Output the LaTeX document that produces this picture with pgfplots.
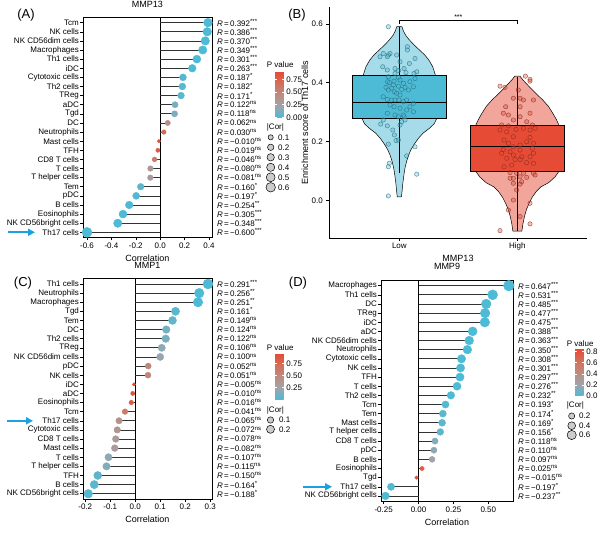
\documentclass[border=0pt]{standalone}
\usepackage{fontspec}
\setmainfont{Liberation Sans}
\usepackage{pgfplots}
\pgfplotsset{compat=1.18}
\usepackage{pgfplotstable}
\usetikzlibrary{arrows.meta}

\definecolor{npgblue}{RGB}{77,187,213}
\definecolor{npgred}{RGB}{230,75,53}
\definecolor{violblue}{RGB}{166,220,234}
\definecolor{violred}{RGB}{242,165,154}
\definecolor{arrowblue}{RGB}{27,160,226}
\definecolor{seggray}{RGB}{51,51,51}
\definecolor{ptblue}{RGB}{40,105,120}
\definecolor{ptred}{RGB}{130,40,30}

\newcommand{\fs}{\fontsize{8}{9.6}\selectfont}
\newcommand{\fl}{\fontsize{9}{10.8}\selectfont}
\newcommand{\Rv}[2]{\textit{R}\,=\,#1\textsuperscript{#2}}

\pgfplotsset{
  colormap={pv}{rgb255=(77,187,213) rgb255=(161,163,170) rgb255=(189,139,128) rgb255=(212,110,90) rgb255=(230,75,53)},
  lolli/.style={
    scale only axis, clip=false,
    ymin=0.4, ymax=24.6, ytick={1,...,24},
    xtick pos=bottom, ytick pos=left,
    tick align=outside, major tick length=2.7pt,
    every tick/.style={black, line width=0.5pt},
    axis line style={line width=0.6pt},
    tick label style={font=\fs},
    yticklabel style={inner sep=1.2pt},
    xticklabel style={inner sep=2.2pt},
    xlabel=Correlation,
    xlabel style={font=\fl, at={(rel axis cs:0.5,0)}, anchor=center, yshift=-20.5pt},
    title style={font=\fl, at={(rel axis cs:0.5,1)}, anchor=base, yshift=3.5pt},
    colormap name=pv,
  },
  rlab/.style={scale only axis, ymin=0.4, ymax=24.6, xmin=0, xmax=1, ytick={1,...,24},
    xtick=\empty, ytick pos=right, yticklabel pos=right, axis line style={draw=none},
    major tick length=0pt, yticklabel style={font=\fs, anchor=west, inner sep=0pt, xshift=4.8pt}},
  pvbar/.style={colorbar, colorbar style={at={(parent axis.north east)}, anchor=north west,
     scale only axis, width=8.3pt, axis line style={draw=none},
     yticklabel pos=right, ytick pos=both, tick align=inside, major tick length=1.8pt,
     every tick/.style={white, line width=0.5pt},
     yticklabel style={font=\fs, inner sep=0pt, xshift=2.7pt}}},
  lolpts/.style={scatter, only marks, mark=*, point meta=explicit,
     scatter/use mapped color={draw=mapped color, fill=mapped color},
     scatter/@pre marker code/.append style={/tikz/mark size=\ms pt}},
}

% y = row (24 = top), r = correlation, p = p value
\pgfplotstableread{
y r p
24 0.392 0.0000
23 0.386 0.0000
22 0.370 0.0000
21 0.349 0.0000
20 0.301 0.0001
19 0.263 0.0008
18 0.187 0.017
17 0.182 0.021
16 0.171 0.030
15 0.122 0.124
14 0.118 0.137
13 0.062 0.435
12 0.030 0.705
11 -0.010 0.900
10 -0.019 0.810
9 -0.046 0.563
8 -0.080 0.314
7 -0.081 0.308
6 -0.160 0.043
5 -0.197 0.012
4 -0.254 0.001
3 -0.305 0.0001
2 -0.348 0.0000
1 -0.600 0.0000
}\tblA

\pgfplotstableread{
y r p
24 0.291 0.0002
23 0.256 0.0011
22 0.251 0.0014
21 0.161 0.042
20 0.149 0.060
19 0.124 0.118
18 0.122 0.124
17 0.106 0.182
16 0.100 0.209
15 0.052 0.514
14 0.051 0.522
13 -0.005 0.950
12 -0.010 0.900
11 -0.016 0.841
10 -0.041 0.607
9 -0.065 0.414
8 -0.072 0.366
7 -0.078 0.327
6 -0.082 0.303
5 -0.107 0.178
4 -0.115 0.148
3 -0.150 0.058
2 -0.164 0.039
1 -0.188 0.017
}\tblC

\pgfplotstableread{
y r p
24 0.647 0.0000
23 0.531 0.0000
22 0.485 0.0000
21 0.477 0.0000
20 0.475 0.0000
19 0.388 0.0000
18 0.363 0.0000
17 0.350 0.0000
16 0.308 0.0001
15 0.301 0.0001
14 0.297 0.0001
13 0.276 0.0004
12 0.232 0.003
11 0.193 0.014
10 0.174 0.028
9 0.169 0.033
8 0.156 0.049
7 0.118 0.137
6 0.110 0.166
5 0.097 0.222
4 0.025 0.753
3 -0.015 0.850
2 -0.197 0.012
1 -0.237 0.0026
}\tblD

\pgfplotstableread{
x y
0.907 0.590
1.068 0.522
1.068 0.511
0.864 0.499
0.921 0.499
0.907 0.494
0.977 0.494
0.836 0.488
0.898 0.488
1.133 0.482
1.085 0.465
0.859 0.454
1.006 0.471
0.898 0.443
0.994 0.441
0.963 0.448
1.040 0.448
1.147 0.437
0.907 0.420
0.963 0.431
0.992 0.418
1.056 0.434
1.124 0.431
1.133 0.414
0.901 0.403
0.915 0.400
0.955 0.405
1.006 0.409
1.034 0.398
0.949 0.392
0.992 0.388
0.887 0.384
0.907 0.375
0.935 0.381
1.076 0.375
1.119 0.386
1.090 0.403
1.048 0.384
1.020 0.377
0.958 0.369
0.977 0.364
1.006 0.358
0.864 0.352
0.898 0.343
0.935 0.341
0.963 0.341
0.997 0.341
1.034 0.335
1.062 0.341
1.090 0.318
1.119 0.330
0.921 0.324
0.955 0.318
1.006 0.313
1.062 0.307
1.119 0.301
0.898 0.296
0.963 0.290
0.992 0.284
1.040 0.284
1.034 0.290
0.864 0.273
0.842 0.259
0.898 0.253
1.006 0.256
1.020 0.267
1.048 0.273
0.944 0.239
0.958 0.222
0.992 0.205
0.972 0.203
0.907 0.191
1.133 0.182
1.062 0.151
0.915 0.126
0.907 0.114
1.147 0.089
0.907 0.015
}\ptsLow

\pgfplotstableread{
x y
2.107 0.411
2.068 0.422
2.107 0.405
1.853 0.388
1.895 0.384
2.008 0.375
2.023 0.347
1.966 0.347
2.023 0.318
1.901 0.318
1.881 0.296
1.924 0.290
2.051 0.341
2.107 0.296
2.136 0.341
1.867 0.256
1.924 0.253
1.966 0.273
2.023 0.284
2.079 0.267
2.127 0.256
2.150 0.245
1.853 0.239
1.910 0.233
1.989 0.241
2.051 0.245
2.107 0.239
1.966 0.216
2.107 0.214
1.887 0.205
1.924 0.194
1.966 0.182
2.023 0.188
2.079 0.199
2.136 0.194
2.127 0.177
1.881 0.173
1.938 0.165
2.023 0.171
1.867 0.160
1.966 0.154
2.037 0.148
2.107 0.148
2.136 0.160
1.910 0.143
1.980 0.139
2.023 0.139
2.079 0.128
2.136 0.126
1.952 0.120
1.887 0.114
1.938 0.094
1.994 0.092
2.051 0.092
2.136 0.092
2.150 0.086
2.023 0.080
1.966 0.075
2.079 0.078
1.938 0.075
2.037 0.063
1.966 0.058
2.023 0.055
1.994 0.035
1.966 0.001
2.107 -0.010
1.924 -0.033
2.023 -0.055
2.107 -0.080
1.853 -0.103
}\ptsHigh

\begin{document}
\begin{tikzpicture}
\path[use as bounding box] (0,0) rectangle (600pt,533pt);

%%%%%%%%%%%%%%%% (A)
\begin{axis}[lolli, at={(83pt,515.8pt)}, anchor=north west, width=129pt, height=220.6pt,
  xmin=-0.633, xmax=0.425,
  xtick={-0.6,-0.4,-0.2,0,0.2,0.4}, xticklabels={-0.6,-0.4,-0.2,0.0,0.2,0.4},
  yticklabels={Th17 cells,NK CD56bright cells,Eosinophils,B cells,pDC,Tem,T helper cells,T cells,CD8 T cells,TFH,Mast cells,Neutrophils,DC,Tgd,aDC,TReg,Th2 cells,Cytotoxic cells,iDC,Th1 cells,Macrophages,NK CD56dim cells,NK cells,Tcm},
  title=MMP13,
  point meta min=0, point meta max=0.9,
  pvbar, colorbar style={xshift=54.7pt, yshift=-54.5pt, height=45.6pt, ytick={0,0.25,0.5,0.75}, yticklabels={0.00,0.25,0.50,0.75}},
]
\addplot[black, line width=0.6pt] coordinates {(0,0.4) (0,24.6)};
\addplot[xcomb, seggray, line width=0.7pt] table[x=r, y=y] {\tblA};
\addplot[lolpts, visualization depends on={0.5*(3.3+6.7*sqrt((abs(\thisrow{r})-0.0099)/0.5901)) \as \ms}] table[x=r, y=y, meta=p] {\tblA};
\end{axis}
\begin{axis}[rlab, at={(83pt,515.8pt)}, anchor=north west, width=129pt, height=220.6pt,
  yticklabels={\Rv{−0.600}{***},\Rv{−0.348}{***},\Rv{−0.305}{***},\Rv{−0.254}{**},\Rv{−0.197}{*},\Rv{−0.160}{*},\Rv{−0.081}{ns},\Rv{−0.080}{ns},\Rv{−0.046}{ns},\Rv{−0.019}{ns},\Rv{−0.010}{ns},\Rv{0.030}{ns},\Rv{0.062}{ns},\Rv{0.118}{ns},\Rv{0.122}{ns},\Rv{0.171}{*},\Rv{0.182}{*},\Rv{0.187}{*},\Rv{0.263}{***},\Rv{0.301}{***},\Rv{0.349}{***},\Rv{0.370}{***},\Rv{0.386}{***},\Rv{0.392}{***}}]
\addplot[draw=none] coordinates {(0,1)};
\end{axis}

%%%%%%%%%%%%%%%% (C)
\begin{axis}[lolli, at={(83pt,254.5pt)}, anchor=north west, width=129pt, height=220.7pt,
  xmin=-0.209, xmax=0.307,
  xtick={-0.2,-0.1,0,0.1,0.2,0.3}, xticklabels={-0.2,-0.1,0.0,0.1,0.2,0.3},
  yticklabels={NK CD56bright cells,B cells,TFH,T helper cells,T cells,Mast cells,CD8 T cells,Cytotoxic cells,Th17 cells,Tcm,Eosinophils,aDC,iDC,NK cells,pDC,NK CD56dim cells,TReg,Th2 cells,DC,Tem,Tgd,Macrophages,Neutrophils,Th1 cells},
  title=MMP1,
  point meta min=0, point meta max=0.95,
  pvbar, colorbar style={xshift=54.7pt, yshift=-75.2pt, height=45.6pt, ytick={0.25,0.5,0.75}, yticklabels={0.25,0.50,0.75}},
]
\addplot[black, line width=0.6pt] coordinates {(0,0.4) (0,24.6)};
\addplot[xcomb, seggray, line width=0.7pt] table[x=r, y=y] {\tblC};
\addplot[lolpts, visualization depends on={0.5*(3.3+6.7*sqrt((abs(\thisrow{r})-0.0049)/0.2861)) \as \ms}] table[x=r, y=y, meta=p] {\tblC};
\end{axis}
\begin{axis}[rlab, at={(83pt,254.5pt)}, anchor=north west, width=129pt, height=220.7pt,
  yticklabels={\Rv{−0.188}{*},\Rv{−0.164}{*},\Rv{−0.150}{ns},\Rv{−0.115}{ns},\Rv{−0.107}{ns},\Rv{−0.082}{ns},\Rv{−0.078}{ns},\Rv{−0.072}{ns},\Rv{−0.065}{ns},\Rv{−0.041}{ns},\Rv{−0.016}{ns},\Rv{−0.010}{ns},\Rv{−0.005}{ns},\Rv{0.051}{ns},\Rv{0.052}{ns},\Rv{0.100}{ns},\Rv{0.106}{ns},\Rv{0.122}{ns},\Rv{0.124}{ns},\Rv{0.149}{ns},\Rv{0.161}{*},\Rv{0.251}{**},\Rv{0.256}{**},\Rv{0.291}{***}}]
\addplot[draw=none] coordinates {(0,1)};
\end{axis}

%%%%%%%%%%%%%%%% (D)
\begin{axis}[lolli, at={(381pt,252.8pt)}, anchor=north west, width=132pt, height=221.2pt,
  xmin=-0.269, xmax=0.677,
  xtick={-0.25,0,0.25,0.5}, xticklabels={-0.25,0.00,0.25,0.50},
  yticklabels={NK CD56bright cells,Th17 cells,Tgd,Eosinophils,B cells,pDC,CD8 T cells,T helper cells,Mast cells,Tem,Tcm,Th2 cells,T cells,TFH,NK cells,Cytotoxic cells,Neutrophils,NK CD56dim cells,aDC,iDC,TReg,DC,Th1 cells,Macrophages},
  title=MMP9, title style={yshift=1.5pt},
  point meta min=0, point meta max=0.85,
  pvbar, colorbar style={xshift=53.7pt, yshift=-68.7pt, height=47.1pt, ytick={0,0.2,0.4,0.6,0.8}, yticklabels={0.0,0.2,0.4,0.6,0.8}},
]
\addplot[black, line width=0.6pt] coordinates {(0,0.4) (0,24.6)};
\addplot[xcomb, seggray, line width=0.7pt] table[x=r, y=y] {\tblD};
\addplot[lolpts, visualization depends on={0.5*(3.3+7.4*sqrt((abs(\thisrow{r})-0.0149)/0.6321)) \as \ms}] table[x=r, y=y, meta=p] {\tblD};
\end{axis}
\begin{axis}[rlab, at={(381pt,252.8pt)}, anchor=north west, width=132pt, height=221.2pt,
  yticklabels={\Rv{−0.237}{**},\Rv{−0.197}{*},\Rv{−0.015}{ns},\Rv{0.025}{ns},\Rv{0.097}{ns},\Rv{0.110}{ns},\Rv{0.118}{ns},\Rv{0.156}{*},\Rv{0.169}{*},\Rv{0.174}{*},\Rv{0.193}{*},\Rv{0.232}{**},\Rv{0.276}{***},\Rv{0.297}{***},\Rv{0.301}{***},\Rv{0.308}{***},\Rv{0.350}{***},\Rv{0.363}{***},\Rv{0.388}{***},\Rv{0.475}{***},\Rv{0.477}{***},\Rv{0.485}{***},\Rv{0.531}{***},\Rv{0.647}{***}}]
\addplot[draw=none] coordinates {(0,1)};
\end{axis}

%%%%%%%%%%%%%%%% (B)
\begin{axis}[at={(329pt,295pt)}, anchor=south west, scale only axis, width=258pt, height=231pt,
  xmin=0.404, xmax=2.59, ymin=-0.128, ymax=0.657,
  axis x line=bottom, axis y line=left, axis line style={-, line width=0.6pt},
  tick align=outside, major tick length=2.7pt, every tick/.style={black, line width=0.5pt},
  xtick={1,2}, xticklabels={Low,High}, ytick={0,0.2,0.4,0.6}, yticklabels={0.0,0.2,0.4,0.6},
  tick label style={font=\fs}, xticklabel style={inner sep=2.2pt},
  xlabel=MMP13, ylabel=Enrichment score of Th17 cells,
  xlabel style={font=\fl, at={(rel axis cs:0.5,0)}, anchor=center, yshift=-20.3pt},
  ylabel style={font=\fl, at={(rel axis cs:0,0.5)}, anchor=center, rotate=0, yshift=24pt},
]
% violins
\addplot[fill=violblue, draw=black, line width=0.5pt] coordinates {
(1.018,0.012) (1.024,0.035) (1.030,0.060) (1.040,0.090) (1.048,0.110) (1.060,0.130) (1.075,0.150) (1.097,0.171) (1.125,0.190) (1.160,0.210) (1.200,0.228) (1.255,0.245) (1.295,0.260) (1.318,0.279) (1.325,0.330) (1.320,0.380) (1.305,0.426) (1.283,0.454) (1.250,0.477) (1.215,0.494) (1.170,0.511) (1.125,0.528) (1.085,0.545) (1.055,0.560) (1.035,0.575) (1.022,0.590)
(0.978,0.590) (0.965,0.575) (0.945,0.560) (0.915,0.545) (0.875,0.528) (0.830,0.511) (0.785,0.494) (0.750,0.477) (0.717,0.454) (0.695,0.426) (0.680,0.380) (0.675,0.330) (0.682,0.279) (0.705,0.260) (0.745,0.245) (0.800,0.228) (0.840,0.210) (0.875,0.190) (0.903,0.171) (0.925,0.150) (0.940,0.130) (0.952,0.110) (0.960,0.090) (0.970,0.060) (0.976,0.035) (0.982,0.012)
} -- cycle;
\addplot[fill=violred, draw=black, line width=0.5pt] coordinates {
(2.038,-0.105) (2.047,-0.080) (2.060,-0.055) (2.078,-0.030) (2.100,-0.010) (2.125,0.010) (2.160,0.030) (2.200,0.046) (2.265,0.060) (2.320,0.080) (2.355,0.100) (2.372,0.140) (2.375,0.180) (2.368,0.220) (2.352,0.256) (2.330,0.275) (2.300,0.296) (2.262,0.320) (2.215,0.341) (2.165,0.360) (2.115,0.380) (2.080,0.395) (2.045,0.410) (2.022,0.422)
(1.978,0.422) (1.955,0.410) (1.920,0.395) (1.885,0.380) (1.835,0.360) (1.785,0.341) (1.738,0.320) (1.700,0.296) (1.670,0.275) (1.648,0.256) (1.632,0.220) (1.625,0.180) (1.628,0.140) (1.645,0.100) (1.680,0.080) (1.735,0.060) (1.800,0.046) (1.840,0.030) (1.875,0.010) (1.900,-0.010) (1.922,-0.030) (1.940,-0.055) (1.953,-0.080) (1.962,-0.105)
} -- cycle;
% whiskers
\addplot[black, line width=0.5pt] coordinates {(1,0.092) (1,0.590)};
\addplot[black, line width=0.5pt] coordinates {(2,-0.105) (2,0.420)};
% boxes
\addplot[fill=npgblue, draw=black, line width=0.5pt] coordinates {(0.6,0.279) (1.4,0.279) (1.4,0.426) (0.6,0.426)} -- cycle;
\addplot[fill=npgred, draw=black, line width=0.5pt] coordinates {(1.6,0.100) (2.4,0.100) (2.4,0.256) (1.6,0.256)} -- cycle;
\addplot[black, line width=1.4pt] coordinates {(0.6,0.333) (1.4,0.333)};
\addplot[black, line width=1.4pt] coordinates {(1.6,0.182) (2.4,0.182)};
% points
\addplot[only marks, mark=*, mark size=2.2pt, mark options={fill=npgblue, fill opacity=0.35, draw=ptblue, draw opacity=0.75, line width=0.45pt}] table[x=x, y=y] {\ptsLow};
\addplot[only marks, mark=*, mark size=2.2pt, mark options={fill=npgred, fill opacity=0.35, draw=ptred, draw opacity=0.75, line width=0.45pt}] table[x=x, y=y] {\ptsHigh};
% significance
\draw[line width=0.5pt] (axis cs:1,0.599) -- (axis cs:1,0.613) -- (axis cs:2,0.613) -- (axis cs:2,0.599);
\node[font=\fontsize{7}{8}\selectfont] at (axis cs:1.5,0.624) {***};
\end{axis}

%%%%%%%%%%%%%%%% legends
\node[anchor=west, font=\fs, inner sep=0pt] at (266.7pt,468pt) {P value};
\node[anchor=west, font=\fs, inner sep=0pt] at (266.7pt,405.7pt) {|Cor|};
\foreach \yy/\rr/\lab in {395.7/2.6/0.1, 385.7/3.2/0.2, 375.7/3.7/0.3, 365.7/4.1/0.4, 355.7/4.45/0.5, 345.7/4.75/0.6}{
  \draw[fill=gray!40, draw=black, line width=0.5pt] (270.7pt,\yy pt) circle (\rr pt);
  \node[anchor=west, font=\fs, inner sep=0pt] at (278pt,\yy pt) {\lab};
}
\node[anchor=west, font=\fs, inner sep=0pt] at (266.7pt,185.7pt) {P value};
\node[anchor=west, font=\fs, inner sep=0pt] at (266.7pt,123pt) {|Cor|};
\foreach \yy/\rr/\lab in {113/3.2/0.1, 103.7/4.0/0.2}{
  \draw[fill=gray!40, draw=black, line width=0.5pt] (270.5pt,\yy pt) circle (\rr pt);
  \node[anchor=west, font=\fs, inner sep=0pt] at (279pt,\yy pt) {\lab};
}
\node[anchor=west, font=\fs, inner sep=0pt] at (566.7pt,189.7pt) {P value};
\node[anchor=west, font=\fs, inner sep=0pt] at (566.7pt,128pt) {|Cor|};
\foreach \yy/\rr/\lab in {117/3.1/0.2, 107.3/3.9/0.4, 98/4.6/0.6}{
  \draw[fill=gray!40, draw=black, line width=0.5pt] (571.7pt,\yy pt) circle (\rr pt);
  \node[anchor=west, font=\fs, inner sep=0pt] at (579pt,\yy pt) {\lab};
}

%%%%%%%%%%%%%%%% arrows and panel labels
\draw[arrowblue, line width=2pt, -{Triangle[length=7pt, width=7pt]}] (8pt,300.7pt) -- (35pt,300.7pt);
\draw[arrowblue, line width=2pt, -{Triangle[length=7pt, width=7pt]}] (7pt,112.2pt) -- (33pt,112.2pt);
\draw[arrowblue, line width=2pt, -{Triangle[length=7pt, width=7pt]}] (303pt,46.2pt) -- (332pt,46.2pt);
\node[font=\fontsize{13}{15}\selectfont] at (26pt,518pt) {(A)};
\node[font=\fontsize{13}{15}\selectfont] at (297pt,518pt) {(B)};
\node[font=\fontsize{13}{15}\selectfont] at (23pt,250pt) {(C)};
\node[font=\fontsize{13}{15}\selectfont] at (298pt,250pt) {(D)};
\end{tikzpicture}
\end{document}
